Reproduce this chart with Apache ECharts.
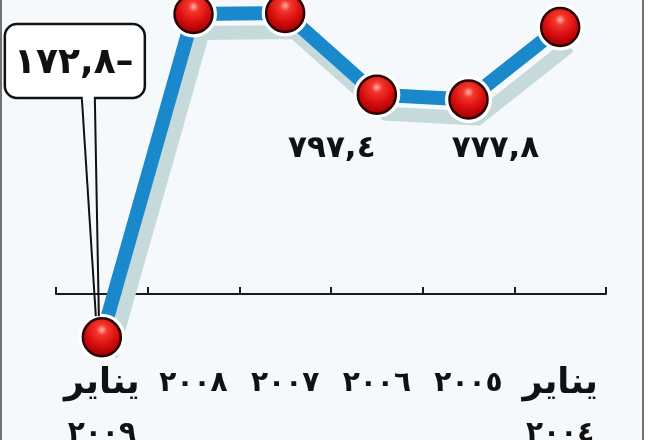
<!doctype html>
<html>
<head>
<meta charset="utf-8">
<script src="https://cdn.jsdelivr.net/npm/echarts@6/dist/echarts.min.js"></script>
<style>
  html, body { margin: 0; padding: 0; background: #fff; }
  #main { width: 648px; height: 440px; }
</style>
</head>
<body>
<div id="main"></div>
<script>
// data, oldest first (axis is drawn right-to-left)
var categories = ['يناير\n٢٠٠٤', '٢٠٠٥', '٢٠٠٦', '٢٠٠٧', '٢٠٠٨', 'يناير\n٢٠٠٩'];
var values = [1068, 777.8, 797.4, 1124, 1120, -172.8];
var labelledIdx = [1, 2];     // values printed under the point
var calloutIdx = 5;           // value shown in the boxed callout

var FONT = 'DejaVu Sans';

// 797.4 -> ٧٩٧,٤   -172.8 -> ١٧٢,٨–
function arabicNum(v) {
    var digits = '٠١٢٣٤٥٦٧٨٩';
    var s = String(Math.abs(v)).replace('.', ',');
    var out = '';
    for (var i = 0; i < s.length; i++) {
        var c = s[i];
        out += (c >= '0' && c <= '9') ? digits[+c] : c;
    }
    return v < 0 ? out + '–' : out;
}

var labelOffsets = { 1: [27, 49], 2: [-45, 54] };

var sphereData = values.map(function (v, i) {
    var item = { value: v };
    if (labelledIdx.indexOf(i) >= 0) {
        item.label = {
            show: true,
            position: 'inside',
            offset: labelOffsets[i],
            formatter: function (p) { return arabicNum(p.value); },
            color: '#111',
            fontFamily: FONT,
            fontWeight: 'bold',
            fontSize: 31
        };
    }
    return item;
});

var myChart = echarts.init(document.getElementById('main'));

var option = {
    backgroundColor: '#ffffff',
    animation: false,
    grid: { left: 56, right: 42, top: 0, bottom: 0, outerBoundsMode: 'none' },
    xAxis: {
        type: 'category',
        data: categories,
        inverse: true,
        boundaryGap: true,
        axisLine: { show: true, onZero: true, lineStyle: { color: '#1a1a1a', width: 2 } },
        axisTick: { show: true, inside: true, length: 7, interval: 0, lineStyle: { color: '#1a1a1a', width: 2 } },
        axisLabel: {
            show: true,
            // labels sit at the grid's bottom edge, pull them up under the zero line
            margin: -81,
            interval: 0,
            formatter: function (v) {
                var parts = v.split('\n');
                if (parts.length > 1) return '{m|' + parts[0] + '}\n{y|' + parts[1] + '}';
                return '{y|' + v + '}';
            },
            rich: {
                m: { fontFamily: FONT, fontWeight: 'bold', fontSize: 35, lineHeight: 50, color: '#111' },
                y: { fontFamily: FONT, fontWeight: 'bold', fontSize: 28, lineHeight: 50, color: '#111' }
            }
        },
        splitLine: { show: false }
    },
    yAxis: {
        type: 'value',
        min: -584,
        max: 1176,
        show: false
    },
    series: [{
        type: 'line',
        data: values,
        showSymbol: false,
        symbol: 'none',
        z: 2,
        lineStyle: {
            color: '#1a89cc',
            width: 14,
            cap: 'butt',
            join: 'miter',
            shadowColor: '#c6dadb',
            shadowBlur: 0,
            shadowOffsetX: 9,
            shadowOffsetY: 19
        }
    }, {
        // white halo that cuts the line around each ball
        type: 'scatter',
        data: values,
        symbol: 'circle',
        symbolSize: 47,
        z: 3,
        silent: true,
        itemStyle: { color: '#ffffff', opacity: 1 }
    }, {
        type: 'scatter',
        data: sphereData,
        symbol: 'circle',
        symbolSize: 38,
        z: 4,
        itemStyle: {
            opacity: 1,
            borderColor: '#2a0404',
            borderWidth: 2.5,
            color: {
                type: 'radial', x: 0.5, y: 0.32, r: 0.72,
                colorStops: [
                    { offset: 0, color: '#ffb4a8' },
                    { offset: 0.18, color: '#f4372c' },
                    { offset: 0.55, color: '#d60d0d' },
                    { offset: 0.85, color: '#a80202' },
                    { offset: 1, color: '#5a0000' }
                ]
            }
        }
    }]
};

myChart.setOption(option);

// frame + callout for the January 2009 point, placed from the point's pixel position
var pt = myChart.convertToPixel({ gridIndex: 0 }, [calloutIdx, values[calloutIdx]]);
var boxL = pt[0] - 97, boxT = 24, boxW = 140, boxH = 74;
var tipY = pt[1] - 21;

myChart.setOption({
    graphic: [{
        type: 'rect',
        z: -1,
        shape: { x: 1, y: -4, width: 642, height: 448 },
        style: { fill: '#f5f9fc', stroke: '#727272', lineWidth: 2 }
    }, {
        type: 'polyline',
        z: 10,
        shape: { points: [[boxL + 77, boxT + boxH], [pt[0] - 6, tipY]] },
        style: { stroke: '#111', lineWidth: 2, fill: null }
    }, {
        type: 'polyline',
        z: 10,
        shape: { points: [[boxL + 90, boxT + boxH], [pt[0] - 3, tipY]] },
        style: { stroke: '#111', lineWidth: 2, fill: null }
    }, {
        type: 'rect',
        z: 11,
        shape: { x: boxL, y: boxT, width: boxW, height: boxH, r: 12 },
        style: { fill: '#ffffff', stroke: '#111', lineWidth: 2.5 }
    }, {
        // keep the tail opening at the box bottom
        type: 'rect',
        z: 12,
        shape: { x: boxL + 78, y: boxT + boxH - 3, width: 11, height: 5 },
        style: { fill: '#ffffff' }
    }, {
        type: 'text',
        z: 13,
        style: {
            x: boxL + boxW / 2 - 1,
            y: boxT + boxH / 2 + 3,
            text: arabicNum(values[calloutIdx]),
            align: 'center',
            verticalAlign: 'middle',
            fill: '#111',
            font: 'bold 36px "' + FONT + '"'
        }
    }]
});
</script>
</body>
</html>
